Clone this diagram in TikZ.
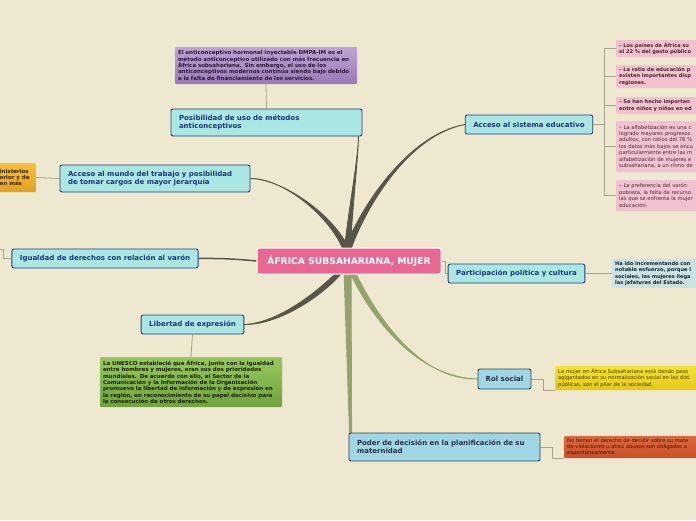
\documentclass[tikz,border=0pt]{standalone}
\usepackage{fontspec}
\setmainfont{DejaVu Sans}
\pgfdeclarelayer{edgelayer}
\pgfdeclarelayer{nodelayer}
\pgfsetlayers{edgelayer,nodelayer,main}
\definecolor{paper}{RGB}{239,232,209}
\definecolor{hubpink}{RGB}{232,104,148}
\definecolor{topicfill}{RGB}{170,231,226}
\definecolor{topicline}{RGB}{32,62,128}
\definecolor{topicink}{RGB}{30,52,120}
\definecolor{lowfill}{RGB}{160,214,228}
\definecolor{lowline}{RGB}{40,68,88}
\definecolor{lowink}{RGB}{40,50,68}
\definecolor{branchgray}{RGB}{88,86,72}
\definecolor{olive}{RGB}{148,162,108}
\definecolor{twiggray}{RGB}{168,162,142}
\definecolor{pinknote}{RGB}{240,194,208}
\definecolor{pinkink}{RGB}{78,36,46}
\tikzstyle{hub}=[rectangle, rounded corners=2pt, fill=hubpink, draw=white, line width=1pt, text=white, font=\bfseries\fontsize{9.2}{10}\selectfont, minimum width=184pt, minimum height=26pt]
\tikzstyle{topic}=[rectangle, rounded corners=2pt, fill=topicfill, draw=topicline, line width=0.9pt, text=topicink, font=\bfseries\fontsize{7}{8.4}\selectfont, align=left, inner xsep=8pt, inner ysep=2pt, minimum height=19pt]
\tikzstyle{lowtopic}=[topic, fill=lowfill, draw=lowline, text=lowink]
\tikzstyle{note}=[rectangle, rounded corners=1pt, font=\bfseries\fontsize{5.5}{6.4}\selectfont, align=left, inner xsep=3pt, inner ysep=2pt]
\tikzstyle{edgenote}=[note, font=\bfseries\fontsize{5.1}{6.4}\selectfont, anchor=west]
\tikzstyle{edgeplain}=[note, font=\fontsize{5.2}{6.4}\selectfont, anchor=west]
\tikzstyle{pinkbox}=[fill=pinknote, text=pinkink, text width=90pt]
\tikzstyle{trunk}=[fill=branchgray, draw=branchgray, line width=0.9pt, line join=round]
\tikzstyle{olivetrunk}=[fill=olive, draw=olive, line width=1pt, line join=round]
\tikzstyle{twig}=[draw=twiggray, line width=0.8pt]

\begin{document}
\begin{tikzpicture}[x=1pt, y=-1pt]
\useasboundingbox (0,0) rectangle (696,520);
	\begin{pgfonlayer}{nodelayer}
		\node [style=hub] (hub) at (349,261) {ÁFRICA SUBSAHARIANA, MUJER};
		\node [style=topic, text width=175pt, minimum height=27pt] (pos) at (266.5,122.5) {Posibilidad de uso de métodos\\anticonceptivos};
		\node [style=topic, text width=174pt, minimum height=27pt] (mundo) at (155,178.5) {Acceso al mundo del trabajo y posibilidad\\de tomar cargos de mayor jerarquía};
		\node [style=topic, minimum width=186pt] (igu) at (105,258.5) {Igualdad de derechos con relación al varón};
		\node [style=topic, minimum width=101pt] (lib) at (192.5,324.5) {Libertad de expresión};
		\node [style=topic, minimum width=126pt] (edu) at (529,124.5) {Acceso al sistema educativo};
		\node [style=topic, minimum width=135pt] (par) at (516.5,273.5) {Participación política y cultura};
		\node [style=lowtopic, minimum width=53pt, minimum height=20pt, inner xsep=4pt] (rol) at (504.5,379) {Rol social};
		\node [style=lowtopic, text width=175pt, minimum height=28pt] (pod) at (444.5,447) {Poder de decisión en la planificación de su\\maternidad};
		% notes
		\node [style=note, top color={rgb,255:red,188;green,164;blue,212}, bottom color={rgb,255:red,152;green,122;blue,182}, text={rgb,255:red,45;green,25;blue,60}, text width=176pt, minimum height=37pt] (anti) at (266,65.5) {El anticonceptivo hormonal inyectable DMPA-IM es el\\método anticonceptivo utilizado con más frecuencia en\\África subsahariana. Sin embargo, el uso de los\\anticonceptivos modernos continúa siendo bajo debido\\a la falta de financiamiento de los servicios.};
		\node [style=note, top color={rgb,255:red,152;green,200;blue,92}, bottom color={rgb,255:red,112;green,162;blue,62}, text={rgb,255:red,25;green,35;blue,10}, text width=176pt, minimum height=50pt] (unesco) at (191,382) {La UNESCO estableció que África, junto con la igualdad\\entre hombres y mujeres, eran sus dos prioridades\\mundiales. De acuerdo con ello, el Sector de la\\Comunicación y la Información de la Organización\\promueve la libertad de información y de expresión en\\la región, en reconocimiento de su papel decisivo para\\la consecución de otros derechos.};
		\node [style=note, top color={rgb,255:red,246;green,192;blue,62}, bottom color={rgb,255:red,226;green,160;blue,30}, text={rgb,255:red,60;green,35;blue,5}, text width=33pt, minimum height=29pt, anchor=east] (cargos) at (36,177.5) {inisterios\\erior y de\\en más};
		\node [style=edgenote, style=pinkbox, minimum height=17pt] (edA) at (616,48.5) {– Los países de África su\\el 22 \% del gasto público};
		\node [style=edgenote, style=pinkbox, minimum height=23pt] (edB) at (616,76.5) {– La ratio de educación p\\existen importantes disp\\regiones.};
		\node [style=edgenote, style=pinkbox, minimum height=17pt] (edC) at (616,105.5) {– Se han hecho importan\\entre niños y niñas en ed};
		\node [style=edgeplain, style=pinkbox, minimum height=51pt] (edD) at (616,146.5) {– La alfabetización es una c\\logrado mayores progresos\\adultos, con ratios del 78 \%\\los datos más bajos se encu\\particularmente entre las m\\alfabetización de mujeres e\\subsahariana, a un ritmo de};
		\node [style=edgeplain, style=pinkbox, minimum height=31pt] (edE) at (616,195.5) {– La preferencia del varón\\pobreza, la falta de recurso\\las que se enfrenta la mujer\\educación.};
		\node [style=edgenote, fill={rgb,255:red,202;green,226;blue,228}, text={rgb,255:red,20;green,38;blue,48}, text width=90pt, minimum height=29pt] (polit) at (612,273.5) {Ha ido incrementando con\\notable esfuerzo, porque l\\sociales, las mujeres llega\\las jefaturas del Estado.};
		\node [style=edgeplain, top color={rgb,255:red,246;green,226;blue,52}, bottom color={rgb,255:red,230;green,200;blue,20}, text={rgb,255:red,70;green,55;blue,0}, text width=160pt, minimum height=24pt] (socio) at (555,378) {La mujer en África Subsahariana está dando paso\\agigantados en su normalización social en las dist\\públicas, son el pilar de la sociedad.};
		\node [style=edgeplain, top color={rgb,255:red,222;green,104;blue,62}, bottom color={rgb,255:red,200;green,80;blue,40}, text={rgb,255:red,62;green,22;blue,8}, text width=150pt, minimum height=22pt] (mater) at (564,447) {No tienen el derecho de decidir sobre su mate\\de violaciones u otros abusos son obligadas a\\espontáneamente.};
	\end{pgfonlayer}
	\begin{pgfonlayer}{edgelayer}
		\fill [paper] (0,0) rectangle (696,520);
		\coordinate (hubT) at (347,252);
		\coordinate (hubB) at (347,268);
		\coordinate (igL) at (0,249);
		\coordinate (eduJ) at (604,124.5);
		% main branches
		\filldraw [style=trunk] ([xshift=-3pt]hubT) .. controls (350,200) and (358,160) .. ([xshift=-4pt]pos.south east) .. controls (358,160) and (353,200) .. ([xshift=3pt]hubT) -- cycle;
		\filldraw [style=trunk] ([xshift=-3pt]hubT) .. controls (332,218) and (284,178) .. (mundo.east) .. controls (284,179) and (338,218) .. ([xshift=3pt]hubT) -- cycle;
		\filldraw [style=trunk] ([xshift=-3pt]hubT) .. controls (356,215) and (405,135) .. (edu.west) .. controls (405,136) and (362,215) .. ([xshift=3pt]hubT) -- cycle;
		\filldraw [style=trunk] ([xshift=-6pt]hubB) .. controls (322,288) and (280,323) .. (lib.east) .. controls (280,325) and (326,294) .. ([xshift=-1pt]hubB) -- cycle;
		\filldraw [style=olivetrunk] ([xshift=1pt]hubB) .. controls (372,322) and (420,378) .. (rol.west) .. controls (420,380) and (378,320) .. ([xshift=6pt]hubB) -- cycle;
		\filldraw [style=olivetrunk] ([xshift=-3pt]hubB) -- ([xshift=1pt]pod.north west) -- ([xshift=3pt]pod.north west) -- ([xshift=4pt]hubB) -- cycle;
		\draw [draw=branchgray, line width=1.5pt] (igu.east) to [bend left=3] (hub.west);
		\draw [style=twig] (hub.east) -- ++(4,0) |- (par.west);
		% notes
		\draw [style=twig] (pos.north) -- (anti.south);
		\draw [style=twig] (lib.south) -- (unesco.north);
		\draw [style=twig] (mundo.west) -- (cargos.east);
		\draw [style=twig] (igu.west) -- ++(-8,0) |- (igL);
		\draw [style=twig] (edu.east) -- (eduJ);
		\draw [style=twig] (eduJ) |- (edA.west);
		\draw [style=twig] (eduJ) |- (edB.west);
		\draw [style=twig] (eduJ) |- (edC.west);
		\draw [style=twig] (eduJ) |- (edD.west);
		\draw [style=twig] (eduJ) |- (edE.west);
		\draw [style=twig] (par.east) -- (polit.west);
		\draw [style=twig] (rol.east) -- ++(12,0) |- (socio.south west);
		\draw [style=twig] (pod.east) -- ++(12,0) |- (mater.south west);
	\end{pgfonlayer}
\end{tikzpicture}
\end{document}
